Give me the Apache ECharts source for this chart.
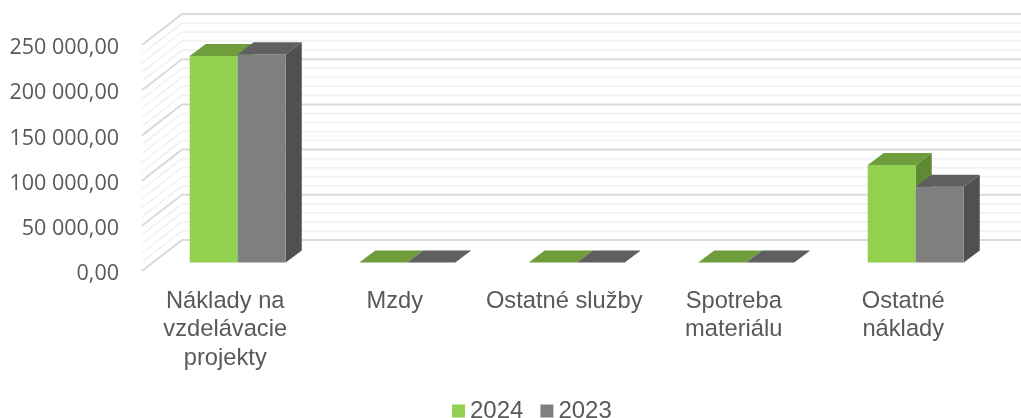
<!DOCTYPE html>
<html>
<head>
<meta charset="utf-8">
<style>
    html, body { margin: 0; padding: 0; background: #fff; overflow: hidden; }
    #chart { width: 1021px; height: 418px; }
</style>
<script src="https://cdn.jsdelivr.net/npm/echarts@6/dist/echarts.min.js"></script>
</head>
<body>
<div id="chart"></div>
<script>
var categories = ['Náklady na\nvzdelávacie\nprojekty', 'Mzdy', 'Ostatné služby', 'Spotreba\nmateriálu', 'Ostatné\nnáklady'];
var values2024 = [228500, 0, 0, 0, 107800];
var values2023 = [230500, 0, 0, 0, 83800];
var majorTicks = [0, 50000, 100000, 150000, 200000, 250000];
var minorTicks = [10000, 20000, 30000, 40000, 60000, 70000, 80000, 90000, 110000, 120000, 130000, 140000,
    160000, 170000, 180000, 190000, 210000, 220000, 230000, 240000];

// posun zadnej steny a hlbka stlpca (pseudo 3D)
var wallDx = 40, wallDy = -31;
var barDx = 16, barDy = -12;
var barShiftX = 11, barShiftY = -8.5;
var barWidth = 48;

function wallItem(params, api) {
    var pt = api.coord([0, api.value(0)]);
    var x0 = params.coordSys.x;
    return {
        type: 'polyline',
        silent: true,
        shape: { points: [[x0, pt[1]], [x0 + wallDx, pt[1] + wallDy], [x0 + params.coordSys.width + wallDx, pt[1] + wallDy]] },
        style: { fill: null, stroke: api.value(1) ? '#dadada' : '#f1f1f1', lineWidth: api.value(1) ? 2 : 1.6 }
    };
}

function barRender(offset, front, top, side) {
    return function (params, api) {
        var base = api.coord([api.value(0), 0]);
        var head = api.coord([api.value(0), api.value(1)]);
        var x1 = base[0] + barShiftX + offset;
        var x2 = x1 + barWidth;
        var y0 = base[1] + barShiftY;
        var y1 = head[1] + barShiftY;
        var children = [];
        if (y0 - y1 > 0.5) {
            children.push({ type: 'polygon', shape: { points: [[x2, y0], [x2 + barDx, y0 + barDy], [x2 + barDx, y1 + barDy], [x2, y1]] }, style: { fill: side } });
            children.push({ type: 'rect', shape: { x: x1, y: y1, width: barWidth, height: y0 - y1 }, style: { fill: front } });
        }
        children.push({ type: 'polygon', shape: { points: [[x1, y1], [x1 + barDx, y1 + barDy], [x2 + barDx, y1 + barDy], [x2, y1]] }, style: { fill: top } });
        return { type: 'group', children: children };
    };
}

var wallData = majorTicks.map(function (v) { return [v, 1]; }).concat(minorTicks.map(function (v) { return [v, 0]; }));
wallData.sort(function (a, b) { return a[1] - b[1]; });

var myChart = echarts.init(document.getElementById('chart'));
var option = {
    animation: false,
    textStyle: { fontFamily: 'Liberation Sans', color: '#595959' },
    grid: { left: 142, top: 45, width: 847.5, height: 226, containLabel: false },
    legend: {
        data: [{ name: '2024', icon: 'rect' }, { name: '2023', icon: 'rect' }],
        left: 452,
        top: 399,
        padding: 0,
        itemWidth: 13,
        itemHeight: 13,
        itemGap: 17,
        textStyle: { fontFamily: 'Liberation Sans', fontSize: 24, color: '#595959' }
    },
    xAxis: {
        type: 'category',
        data: categories,
        axisLine: { show: false },
        axisTick: { show: false },
        axisLabel: {
            interval: 0,
            margin: 16,
            padding: [0, 3, 0, 0],
            fontFamily: 'Liberation Sans',
            fontSize: 23.7,
            lineHeight: 28.5,
            color: '#595959'
        }
    },
    yAxis: {
        type: 'value',
        min: 0,
        max: 250000,
        interval: 50000,
        splitLine: { show: false },
        axisLine: { show: false },
        axisTick: { show: false },
        axisLabel: {
            margin: 23,
            verticalAlign: 'top',
            lineHeight: 6,
            fontFamily: 'Open Sans',
            fontSize: 21.5,
            color: '#595959',
            formatter: function (v) {
                return String(v).replace(/\B(?=(\d{3})+$)/g, ' ') + ',00';
            }
        }
    },
    series: [
        {
            type: 'custom',
            name: 'wall',
            silent: true,
            z: 1,
            data: wallData,
            encode: { y: 0 },
            renderItem: wallItem
        },
        {
            type: 'custom',
            name: '2024',
            z: 2,
            itemStyle: { color: '#92d050' },
            data: categories.map(function (c, i) { return [i, values2024[i]]; }),
            encode: { x: 0, y: 1 },
            renderItem: barRender(-barWidth, '#92d050', '#6f9d3c', '#5f8a33')
        },
        {
            type: 'custom',
            name: '2023',
            z: 3,
            itemStyle: { color: '#7f7f7f' },
            data: categories.map(function (c, i) { return [i, values2023[i]]; }),
            encode: { x: 0, y: 1 },
            renderItem: barRender(0, '#7f7f7f', '#5f5f5f', '#505050')
        }
    ]
};
myChart.setOption(option);
</script>
</body>
</html>
